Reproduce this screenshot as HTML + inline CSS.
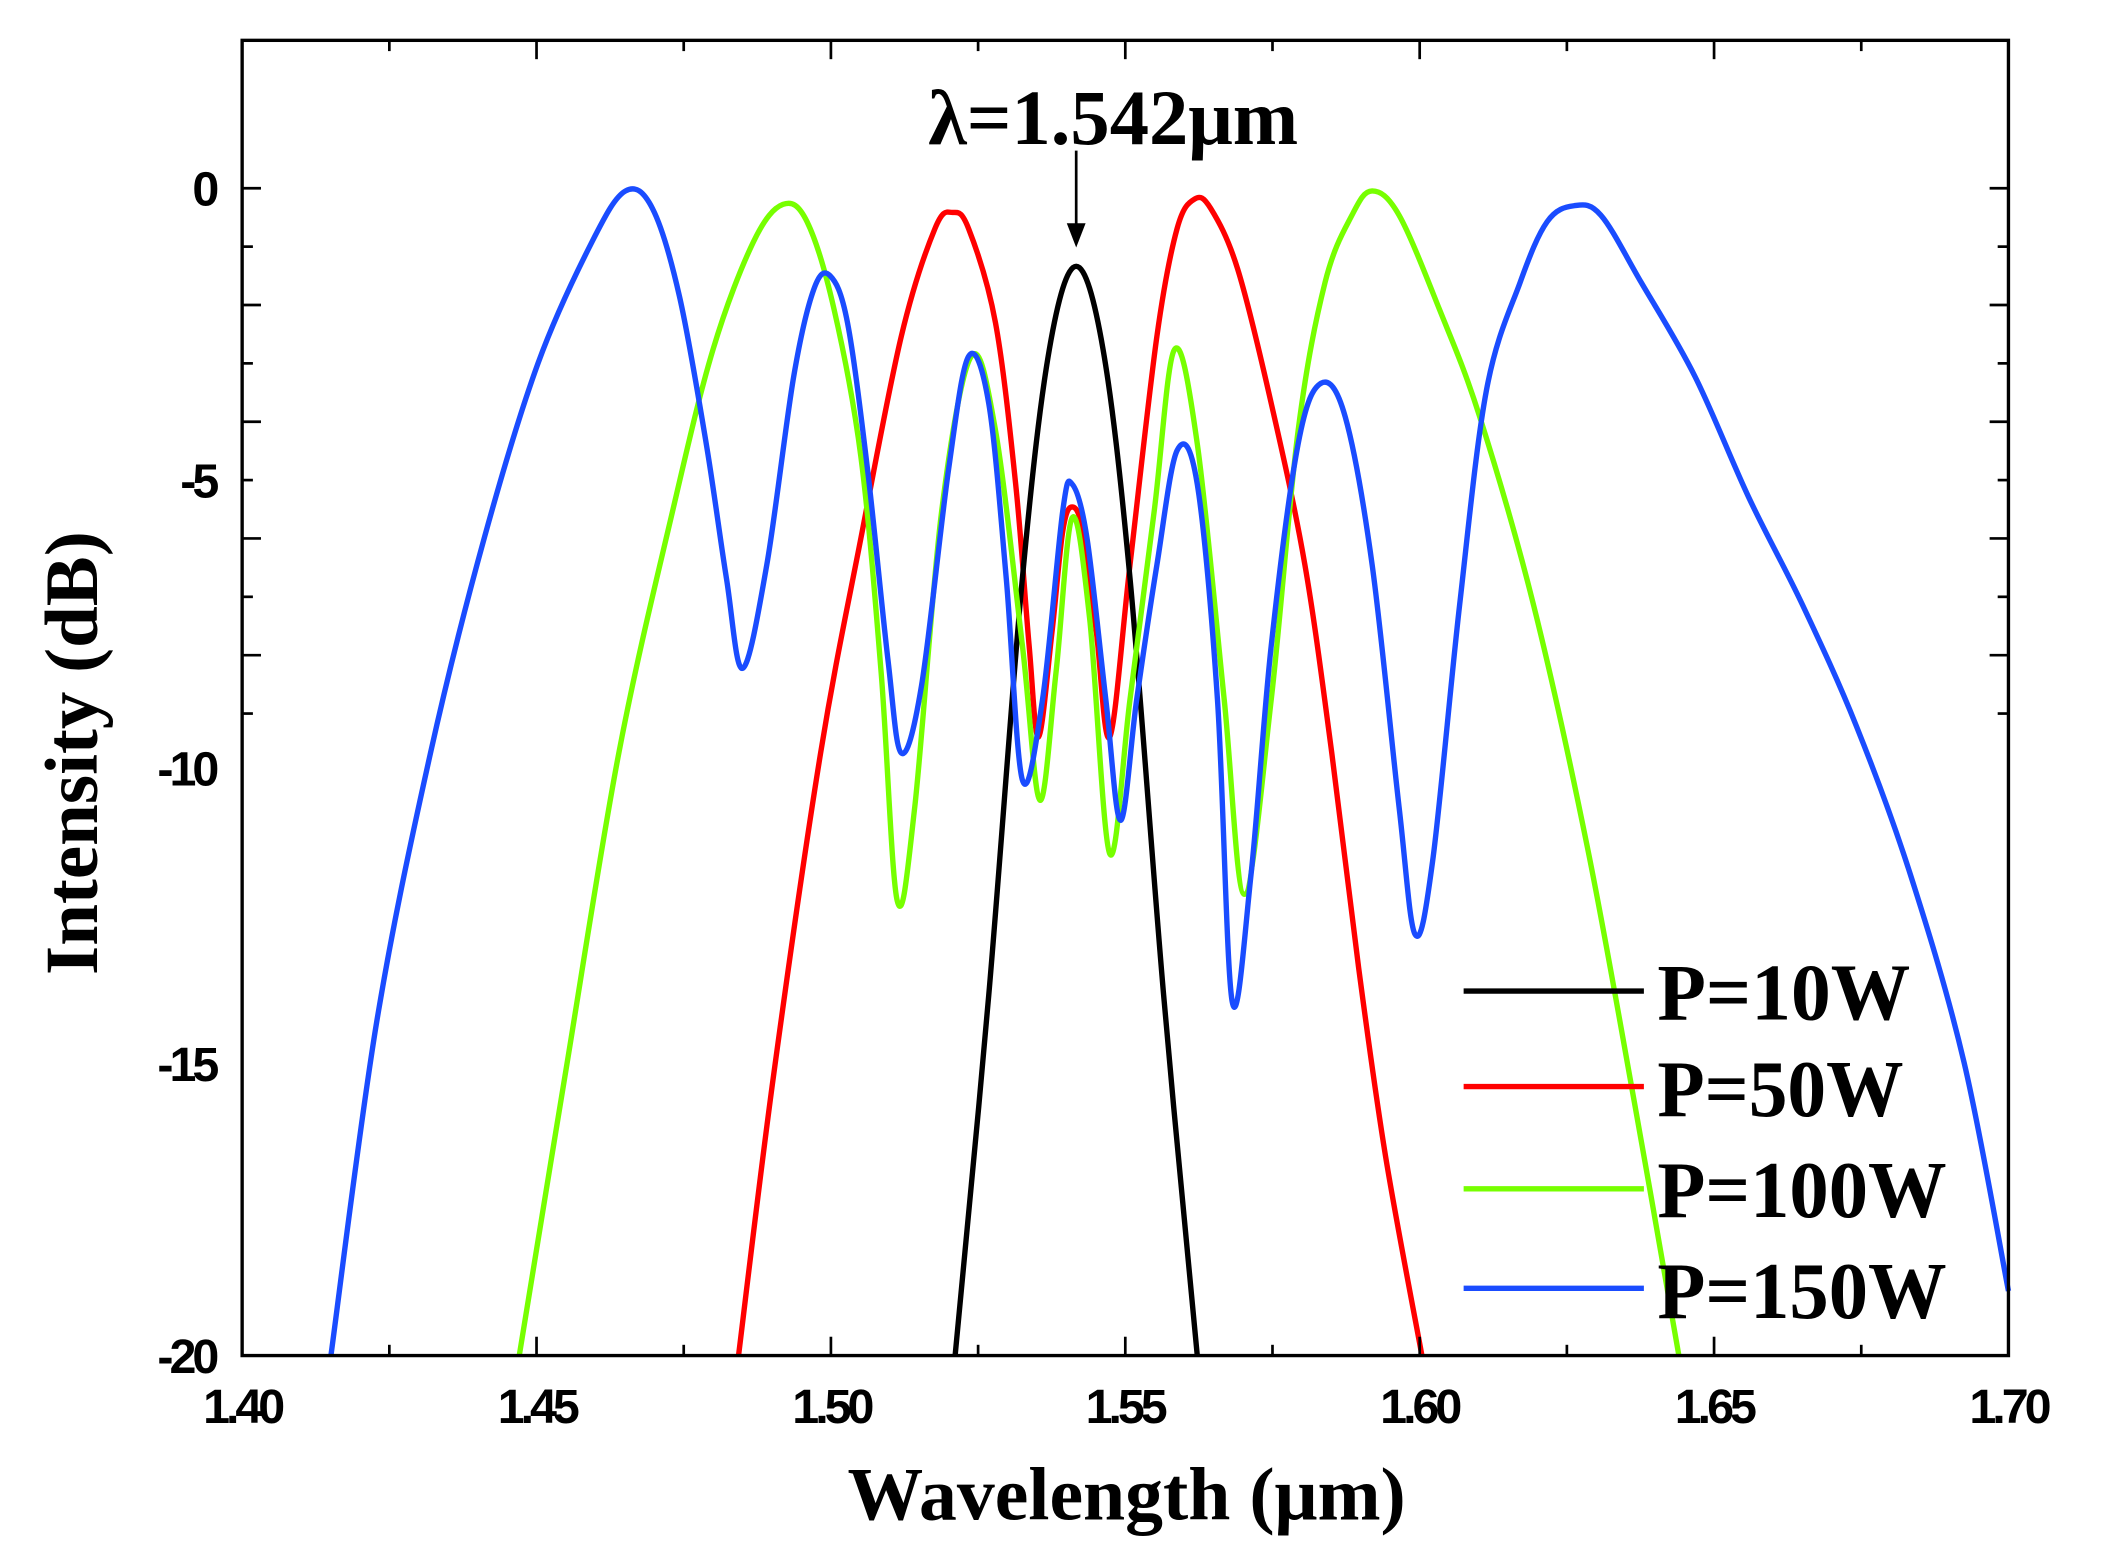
<!DOCTYPE html>
<html><head><meta charset="utf-8"><style>html,body{margin:0;padding:0;background:#fff}svg{display:block}</style></head>
<body>
<svg id="s" width="2108" height="1564" viewBox="0 0 1567 1163" preserveAspectRatio="none" xmlns="http://www.w3.org/2000/svg">
<rect x="0" y="0" width="1567" height="1163" fill="#fff"/>
<g id="curves" fill="none" stroke-width="4" stroke-linejoin="round"></g>
<rect x="180" y="30" width="1313" height="978" fill="none" stroke="#000" stroke-width="2.5"/>
<g id="ticks" stroke="#000" stroke-width="2"></g>
<g font-family="Liberation Sans, sans-serif" font-weight="bold" font-size="36" fill="#000" text-anchor="end" letter-spacing="-3">
<text x="160" y="153">0</text><text x="160" y="370">-5</text><text x="160" y="584">-10</text><text x="160" y="804">-15</text><text x="160" y="1021">-20</text>
</g>
<g font-family="Liberation Sans, sans-serif" font-weight="bold" font-size="36" fill="#000" text-anchor="middle" letter-spacing="-3">
<text x="180" y="1058">1.40</text><text x="399" y="1058">1.45</text><text x="618" y="1058">1.50</text><text x="836" y="1058">1.55</text><text x="1055" y="1058">1.60</text><text x="1274" y="1058">1.65</text><text x="1493" y="1058">1.70</text>
</g>
<g font-family="Liberation Serif, serif" font-weight="bold" fill="#000">
<text x="630" y="1130" font-size="56" textLength="415" lengthAdjust="spacingAndGlyphs">Wavelength (μm)</text>
<text transform="translate(72,725) rotate(-90)" font-size="56" textLength="330" lengthAdjust="spacingAndGlyphs">Intensity (dB)</text>
<text x="690" y="107" font-size="58" textLength="275" lengthAdjust="spacingAndGlyphs">λ=1.542μm</text>
<text x="1232" y="758" font-size="60" textLength="188" lengthAdjust="spacingAndGlyphs">P=10W</text>
<text x="1232" y="830" font-size="60" textLength="183" lengthAdjust="spacingAndGlyphs">P=50W</text>
<text x="1232" y="905" font-size="60" textLength="215" lengthAdjust="spacingAndGlyphs">P=100W</text>
<text x="1232" y="980" font-size="60" textLength="215" lengthAdjust="spacingAndGlyphs">P=150W</text>
</g>
<line x1="800" y1="112" x2="800" y2="170" stroke="#000" stroke-width="2"/>
<polygon points="793,166 807,166 800,184" fill="#000"/>
<g stroke-width="4">
<line x1="1088" y1="737" x2="1222" y2="737" stroke="#000"/>
<line x1="1088" y1="808" x2="1222" y2="808" stroke="#f00"/>
<line x1="1088" y1="884" x2="1222" y2="884" stroke="#7f0"/>
<line x1="1088" y1="958" x2="1222" y2="958" stroke="#1a4cff"/>
</g>
</svg>
<script>
var NS="http://www.w3.org/2000/svg";
var t=document.getElementById('ticks');
function ln(a,b,c,d){var l=document.createElementNS(NS,'line');l.setAttribute('x1',a);l.setAttribute('y1',b);l.setAttribute('x2',c);l.setAttribute('y2',d);t.appendChild(l);}
for(var i=0;i<=12;i++){var x=180+i*1313/12;var L=i%2?8:14;ln(x,1008,x,1008-L);ln(x,30,x,30+L);}
for(var j=0;j<=9;j++){var y=140+j*43.4;if(y>1008)break;var L=j%2?8:14;ln(180,y,180+L,y);ln(1493,y,1493-L,y);}
function path(p,col){var d="M"+p[0][0]+","+p[0][1];for(var i=0;i<p.length-1;i++){var p0=p[i-1]||p[i],p1=p[i],p2=p[i+1],p3=p[i+2]||p2;
d+=" C"+(p1[0]+(p2[0]-p0[0])/6)+","+(p1[1]+(p2[1]-p0[1])/6)+" "+(p2[0]-(p3[0]-p1[0])/6)+","+(p2[1]-(p3[1]-p1[1])/6)+" "+p2[0]+","+p2[1];}
var e=document.createElementNS(NS,'path');e.setAttribute('d',d);e.setAttribute('stroke',col);document.getElementById('curves').appendChild(e);}
path([[549,1008],[575,800],[610,560],[640,400],[670,250],[695,170],[708,158],[720,170],[740,240],[755,360],[765,480],[772,548],[782,470],[790,395],[797,377],[805,395],[815,470],[825,548],[840,420],[860,250],[875,170],[888,148],[900,155],[920,200],[945,300],[970,420],[990,560],[1010,720],[1030,860],[1057,1008]],"#f00");
path([[710,1008],[735,740],[760,430],[780,260],[800,198],[820,260],[840,430],[865,740],[890,1008]],"#000");
path([[386,1008],[420,800],[460,560],[500,380],[530,260],[560,180],[582,152],[600,165],[620,230],[640,340],[655,500],[667,670],[680,600],[700,380],[722,265],[740,320],[760,480],[773,595],[785,500],[797,385],[810,460],[825,635],[840,520],[858,380],[873,260],[890,330],[910,520],[925,665],[945,520],[965,320],[985,210],[1005,160],[1020,142],[1040,160],[1070,230],[1100,310],[1140,450],[1180,630],[1215,820],[1248,1008]],"#7f0");
path([[246,1008],[280,760],[320,560],[360,400],[400,270],[440,180],[465,142],[485,155],[505,220],[525,330],[540,430],[552,497],[570,420],[590,280],[605,215],[617,205],[630,240],[645,350],[660,490],[670,560],[685,510],[705,350],[720,265],[735,300],[748,430],[760,580],[775,520],[790,380],[797,360],[808,400],[822,520],[833,610],[845,520],[860,420],[875,335],[890,360],[905,520],[916,745],[930,650],[945,480],[965,330],[982,285],[1000,310],[1020,420],[1040,600],[1052,695],[1065,640],[1085,450],[1105,290],[1130,210],[1150,165],[1170,153],[1190,160],[1220,210],[1260,280],[1300,370],[1340,450],[1380,540],[1420,650],[1460,790],[1493,960]],"#1a4cff");
</script>
</body></html>
